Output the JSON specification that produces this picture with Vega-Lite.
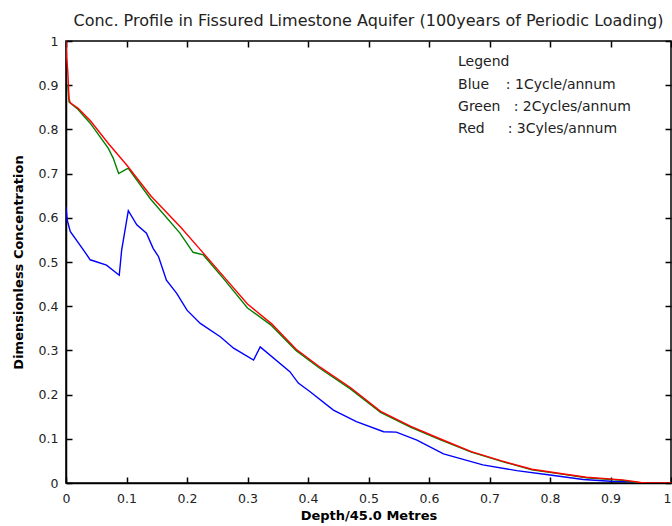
{
  "$schema": "https://vega.github.io/schema/vega-lite/v6.json",
  "autosize": {"type": "none"},
  "width": 605,
  "height": 442,
  "padding": {"left": 66, "top": 41, "right": 1, "bottom": 43},
  "background": "white",
  "title": {
    "text": "Conc. Profile in Fissured Limestone Aquifer (100years of Periodic Loading)",
    "font": "DejaVu Sans",
    "fontSize": 16,
    "fontWeight": "normal",
    "color": "#222",
    "anchor": "middle",
    "offset": 6
  },
  "config": {
    "view": {"stroke": "black", "strokeWidth": 1.5},
    "axis": {
      "domainColor": "black",
      "domainWidth": 1.5,
      "ticks": true,
      "tickColor": "black",
      "tickWidth": 1.5,
      "tickSize": -6,
      "grid": false,
      "labelFont": "DejaVu Sans",
      "labelFontSize": 12.5,
      "labelColor": "#222",
      "titleFont": "DejaVu Sans",
      "titleFontSize": 13,
      "titleFontWeight": "bold",
      "titleColor": "black"
    }
  },
  "resolve": {"axis": {"x": "independent", "y": "independent"}},
  "datasets": {
    "profiles": [
      {"series": "1Cycle/annum", "x": 0, "y": 0.625},
      {"series": "1Cycle/annum", "x": 0.002, "y": 0.595},
      {"series": "1Cycle/annum", "x": 0.007, "y": 0.569},
      {"series": "1Cycle/annum", "x": 0.029, "y": 0.527},
      {"series": "1Cycle/annum", "x": 0.04, "y": 0.505},
      {"series": "1Cycle/annum", "x": 0.067, "y": 0.493},
      {"series": "1Cycle/annum", "x": 0.088, "y": 0.47},
      {"series": "1Cycle/annum", "x": 0.092, "y": 0.527},
      {"series": "1Cycle/annum", "x": 0.103, "y": 0.616},
      {"series": "1Cycle/annum", "x": 0.117, "y": 0.584},
      {"series": "1Cycle/annum", "x": 0.133, "y": 0.565},
      {"series": "1Cycle/annum", "x": 0.144, "y": 0.531},
      {"series": "1Cycle/annum", "x": 0.153, "y": 0.512},
      {"series": "1Cycle/annum", "x": 0.166, "y": 0.459},
      {"series": "1Cycle/annum", "x": 0.183, "y": 0.429},
      {"series": "1Cycle/annum", "x": 0.2, "y": 0.391},
      {"series": "1Cycle/annum", "x": 0.222, "y": 0.361},
      {"series": "1Cycle/annum", "x": 0.255, "y": 0.331},
      {"series": "1Cycle/annum", "x": 0.277, "y": 0.305},
      {"series": "1Cycle/annum", "x": 0.31, "y": 0.278},
      {"series": "1Cycle/annum", "x": 0.321, "y": 0.308},
      {"series": "1Cycle/annum", "x": 0.37, "y": 0.252},
      {"series": "1Cycle/annum", "x": 0.384, "y": 0.226},
      {"series": "1Cycle/annum", "x": 0.403, "y": 0.207},
      {"series": "1Cycle/annum", "x": 0.442, "y": 0.165},
      {"series": "1Cycle/annum", "x": 0.48, "y": 0.139},
      {"series": "1Cycle/annum", "x": 0.525, "y": 0.116},
      {"series": "1Cycle/annum", "x": 0.546, "y": 0.115},
      {"series": "1Cycle/annum", "x": 0.58, "y": 0.097},
      {"series": "1Cycle/annum", "x": 0.624, "y": 0.066},
      {"series": "1Cycle/annum", "x": 0.689, "y": 0.041},
      {"series": "1Cycle/annum", "x": 0.745, "y": 0.028},
      {"series": "1Cycle/annum", "x": 0.8, "y": 0.018},
      {"series": "1Cycle/annum", "x": 0.855, "y": 0.008},
      {"series": "1Cycle/annum", "x": 0.9, "y": 0.004},
      {"series": "1Cycle/annum", "x": 0.93, "y": 0.003},
      {"series": "1Cycle/annum", "x": 0.95, "y": 0},
      {"series": "2Cycles/annum", "x": 0.003, "y": 0.9},
      {"series": "2Cycles/annum", "x": 0.005, "y": 0.862},
      {"series": "2Cycles/annum", "x": 0.02, "y": 0.845},
      {"series": "2Cycles/annum", "x": 0.04, "y": 0.814},
      {"series": "2Cycles/annum", "x": 0.07, "y": 0.757},
      {"series": "2Cycles/annum", "x": 0.078, "y": 0.735},
      {"series": "2Cycles/annum", "x": 0.087, "y": 0.7},
      {"series": "2Cycles/annum", "x": 0.1, "y": 0.71},
      {"series": "2Cycles/annum", "x": 0.103, "y": 0.712},
      {"series": "2Cycles/annum", "x": 0.14, "y": 0.642},
      {"series": "2Cycles/annum", "x": 0.188, "y": 0.566},
      {"series": "2Cycles/annum", "x": 0.21, "y": 0.522},
      {"series": "2Cycles/annum", "x": 0.227, "y": 0.516},
      {"series": "2Cycles/annum", "x": 0.26, "y": 0.463},
      {"series": "2Cycles/annum", "x": 0.3, "y": 0.396},
      {"series": "2Cycles/annum", "x": 0.34, "y": 0.356},
      {"series": "2Cycles/annum", "x": 0.38, "y": 0.3},
      {"series": "2Cycles/annum", "x": 0.42, "y": 0.259},
      {"series": "2Cycles/annum", "x": 0.47, "y": 0.213},
      {"series": "2Cycles/annum", "x": 0.52, "y": 0.16},
      {"series": "2Cycles/annum", "x": 0.57, "y": 0.126},
      {"series": "2Cycles/annum", "x": 0.62, "y": 0.097},
      {"series": "2Cycles/annum", "x": 0.67, "y": 0.07},
      {"series": "2Cycles/annum", "x": 0.72, "y": 0.049},
      {"series": "2Cycles/annum", "x": 0.77, "y": 0.03},
      {"series": "2Cycles/annum", "x": 0.82, "y": 0.02},
      {"series": "2Cycles/annum", "x": 0.86, "y": 0.012},
      {"series": "2Cycles/annum", "x": 0.92, "y": 0.006},
      {"series": "2Cycles/annum", "x": 0.95, "y": 0},
      {"series": "3Cyles/annum", "x": 0, "y": 1},
      {"series": "3Cyles/annum", "x": 0.001, "y": 0.965},
      {"series": "3Cyles/annum", "x": 0.003, "y": 0.93},
      {"series": "3Cyles/annum", "x": 0.005, "y": 0.87},
      {"series": "3Cyles/annum", "x": 0.007, "y": 0.86},
      {"series": "3Cyles/annum", "x": 0.02, "y": 0.848},
      {"series": "3Cyles/annum", "x": 0.04, "y": 0.82},
      {"series": "3Cyles/annum", "x": 0.07, "y": 0.768},
      {"series": "3Cyles/annum", "x": 0.1, "y": 0.72},
      {"series": "3Cyles/annum", "x": 0.14, "y": 0.65},
      {"series": "3Cyles/annum", "x": 0.19, "y": 0.578},
      {"series": "3Cyles/annum", "x": 0.222, "y": 0.528},
      {"series": "3Cyles/annum", "x": 0.26, "y": 0.468},
      {"series": "3Cyles/annum", "x": 0.3, "y": 0.405},
      {"series": "3Cyles/annum", "x": 0.34, "y": 0.36},
      {"series": "3Cyles/annum", "x": 0.38, "y": 0.303},
      {"series": "3Cyles/annum", "x": 0.42, "y": 0.262},
      {"series": "3Cyles/annum", "x": 0.47, "y": 0.216},
      {"series": "3Cyles/annum", "x": 0.52, "y": 0.162},
      {"series": "3Cyles/annum", "x": 0.57, "y": 0.128},
      {"series": "3Cyles/annum", "x": 0.62, "y": 0.099},
      {"series": "3Cyles/annum", "x": 0.67, "y": 0.071},
      {"series": "3Cyles/annum", "x": 0.72, "y": 0.05},
      {"series": "3Cyles/annum", "x": 0.77, "y": 0.031},
      {"series": "3Cyles/annum", "x": 0.82, "y": 0.021},
      {"series": "3Cyles/annum", "x": 0.86, "y": 0.013},
      {"series": "3Cyles/annum", "x": 0.92, "y": 0.007},
      {"series": "3Cyles/annum", "x": 0.95, "y": 0.001},
      {"series": "3Cyles/annum", "x": 0.96, "y": 0},
      {"series": "3Cyles/annum", "x": 1, "y": 0}
    ]
  },
  "layer": [
    {
      "data": {"name": "profiles"},
      "mark": {"type": "line", "strokeWidth": 1.4, "clip": true},
      "encoding": {
        "x": {
          "field": "x", "type": "quantitative",
          "scale": {"domain": [0, 1], "nice": false, "zero": false},
          "axis": {
            "title": "Depth/45.0 Metres",
            "values": [0, 0.1, 0.2, 0.3, 0.4, 0.5, 0.6, 0.7, 0.8, 0.9, 1],
            "format": "~g",
            "labelPadding": 15,
            "labelFlush": false,
            "labelOverlap": false,
            "labelAlign": {"condition": {"test": "datum.value >= 1", "value": "right"}, "value": "center"},
            "titlePadding": 5
          }
        },
        "y": {
          "field": "y", "type": "quantitative",
          "scale": {"domain": [0, 1], "nice": false, "zero": false},
          "axis": {
            "title": "Dimensionless Concentration",
            "values": [0, 0.1, 0.2, 0.3, 0.4, 0.5, 0.6, 0.7, 0.8, 0.9, 1],
            "format": "~g",
            "labelPadding": 14,
            "labelFlush": false,
            "labelOverlap": false,
            "titlePadding": 13
          }
        },
        "color": {
          "field": "series", "type": "nominal",
          "scale": {"domain": ["1Cycle/annum", "2Cycles/annum", "3Cyles/annum"], "range": ["#0000ff", "#008000", "#ff0000"]},
          "legend": null
        }
      }
    },
    {
      "data": {"values": [{"x": 0, "y": 0}]},
      "mark": {"type": "point", "opacity": 0},
      "encoding": {
        "x": {
          "field": "x", "type": "quantitative",
          "axis": {"orient": "top", "title": null, "labels": false, "domain": false,
                   "values": [0, 0.1, 0.2, 0.3, 0.4, 0.5, 0.6, 0.7, 0.8, 0.9, 1]}
        },
        "y": {
          "field": "y", "type": "quantitative",
          "axis": {"orient": "right", "title": null, "labels": false, "domain": false,
                   "values": [0, 0.1, 0.2, 0.3, 0.4, 0.5, 0.6, 0.7, 0.8, 0.9, 1]}
        }
      }
    },
    {
      "data": {"values": [{}]},
      "mark": {"type": "text", "align": "left", "baseline": "middle", "font": "DejaVu Sans", "fontSize": 14, "color": "#222"},
      "encoding": {"x": {"datum": 0.648, "type": "quantitative", "axis": null}, "y": {"datum": 0.953, "type": "quantitative", "axis": null}, "text": {"value": "Legend"}}
    },
    {
      "data": {"values": [{}]},
      "mark": {"type": "text", "align": "left", "baseline": "middle", "font": "DejaVu Sans", "fontSize": 14, "color": "#222"},
      "encoding": {"x": {"datum": 0.648, "type": "quantitative", "axis": null}, "y": {"datum": 0.9, "type": "quantitative", "axis": null}, "text": {"value": "Blue"}}
    },
    {
      "data": {"values": [{}]},
      "mark": {"type": "text", "align": "left", "baseline": "middle", "font": "DejaVu Sans", "fontSize": 14, "color": "#222"},
      "encoding": {"x": {"datum": 0.727, "type": "quantitative", "axis": null}, "y": {"datum": 0.9, "type": "quantitative", "axis": null}, "text": {"value": ": 1Cycle/annum"}}
    },
    {
      "data": {"values": [{}]},
      "mark": {"type": "text", "align": "left", "baseline": "middle", "font": "DejaVu Sans", "fontSize": 14, "color": "#222"},
      "encoding": {"x": {"datum": 0.648, "type": "quantitative", "axis": null}, "y": {"datum": 0.851, "type": "quantitative", "axis": null}, "text": {"value": "Green"}}
    },
    {
      "data": {"values": [{}]},
      "mark": {"type": "text", "align": "left", "baseline": "middle", "font": "DejaVu Sans", "fontSize": 14, "color": "#222"},
      "encoding": {"x": {"datum": 0.74, "type": "quantitative", "axis": null}, "y": {"datum": 0.851, "type": "quantitative", "axis": null}, "text": {"value": ": 2Cycles/annum"}}
    },
    {
      "data": {"values": [{}]},
      "mark": {"type": "text", "align": "left", "baseline": "middle", "font": "DejaVu Sans", "fontSize": 14, "color": "#222"},
      "encoding": {"x": {"datum": 0.648, "type": "quantitative", "axis": null}, "y": {"datum": 0.802, "type": "quantitative", "axis": null}, "text": {"value": "Red"}}
    },
    {
      "data": {"values": [{}]},
      "mark": {"type": "text", "align": "left", "baseline": "middle", "font": "DejaVu Sans", "fontSize": 14, "color": "#222"},
      "encoding": {"x": {"datum": 0.73, "type": "quantitative", "axis": null}, "y": {"datum": 0.802, "type": "quantitative", "axis": null}, "text": {"value": ": 3Cyles/annum"}}
    }
  ]
}
